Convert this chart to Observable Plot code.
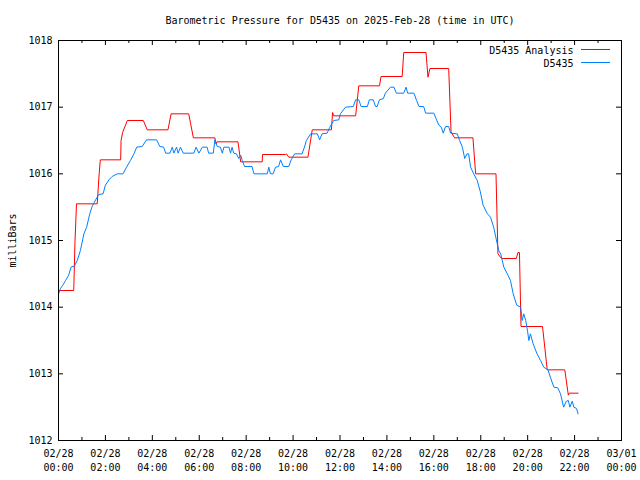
<!DOCTYPE html>
<html>
<head>
<meta charset="utf-8">
<script src="https://cdn.jsdelivr.net/npm/d3@7"></script>
<script src="https://cdn.jsdelivr.net/npm/@observablehq/plot@0.6"></script>
<style>
  html, body { margin: 0; padding: 0; background: white; }
  svg { display: block; }
</style>
</head>
<body>
<div id="chart"></div>
<script>
// ---- Data (minutes after 2025-02-28 00:00 UTC, millibars) ----
const titleText = "Barometric Pressure for D5435 on 2025-Feb-28 (time in UTC)";
const yLabel = "milliBars";
const seriesNames = ["D5435 Analysis", "D5435"];
const seriesColors = ["#ff0000", "#0080ff"];
const yTickValues = [1012, 1013, 1014, 1015, 1016, 1017, 1018];

const analysisMinutes = [0, 39, 42, 46, 99, 104, 107, 159, 160, 164, 176, 217, 227, 280, 288, 333, 338, 345, 400, 403, 405, 459, 466, 521, 522, 581, 583, 589, 638, 649, 698, 701, 704, 760, 768, 821, 825, 879, 883, 940, 945, 950, 998, 1004, 1013, 1060, 1067, 1119, 1124, 1133, 1171, 1175, 1179, 1183, 1238, 1250, 1295, 1304, 1306, 1329];
const analysisValues = [1014.25, 1014.25, 1014.95, 1015.55, 1015.55, 1016.0, 1016.21, 1016.21, 1016.5, 1016.62, 1016.8, 1016.8, 1016.66, 1016.66, 1016.9, 1016.9, 1016.75, 1016.54, 1016.54, 1016.45, 1016.48, 1016.48, 1016.18, 1016.18, 1016.29, 1016.29, 1016.3, 1016.25, 1016.25, 1016.66, 1016.66, 1016.92, 1016.87, 1016.87, 1017.32, 1017.32, 1017.46, 1017.46, 1017.82, 1017.82, 1017.45, 1017.58, 1017.58, 1016.63, 1016.54, 1016.54, 1016.0, 1016.0, 1014.8, 1014.73, 1014.73, 1014.82, 1014.82, 1013.71, 1013.71, 1013.06, 1013.06, 1012.68, 1012.71, 1012.71];

const stationMinutes = [1, 5, 11, 18, 26, 32, 41, 48, 56, 65, 72, 80, 86, 95, 103, 114, 120, 129, 137, 150, 165, 174, 184, 193, 200, 214, 225, 251, 259, 269, 274, 285, 291, 295, 302, 306, 312, 319, 346, 352, 359, 368, 380, 384, 396, 400, 406, 414, 419, 423, 436, 440, 444, 448, 455, 461, 466, 470, 476, 495, 500, 534, 538, 542, 549, 555, 563, 568, 575, 589, 595, 604, 623, 629, 634, 645, 662, 668, 674, 687, 694, 704, 717, 721, 734, 754, 760, 768, 774, 790, 795, 805, 811, 815, 821, 831, 836, 849, 858, 864, 883, 889, 893, 909, 916, 922, 934, 939, 960, 967, 973, 979, 984, 990, 998, 1003, 1020, 1026, 1033, 1039, 1045, 1049, 1054, 1062, 1071, 1079, 1086, 1097, 1105, 1113, 1120, 1126, 1131, 1139, 1148, 1156, 1163, 1172, 1182, 1186, 1190, 1195, 1200, 1203, 1207, 1214, 1224, 1233, 1241, 1252, 1258, 1267, 1277, 1284, 1292, 1299, 1304, 1308, 1314, 1318, 1325, 1329];
const stationValues = [1014.21, 1014.28, 1014.33, 1014.40, 1014.48, 1014.60, 1014.62, 1014.70, 1014.85, 1015.10, 1015.20, 1015.40, 1015.51, 1015.61, 1015.69, 1015.70, 1015.83, 1015.91, 1015.96, 1016.00, 1016.00, 1016.10, 1016.20, 1016.30, 1016.40, 1016.41, 1016.51, 1016.51, 1016.41, 1016.40, 1016.31, 1016.31, 1016.40, 1016.31, 1016.40, 1016.31, 1016.40, 1016.31, 1016.31, 1016.40, 1016.31, 1016.40, 1016.40, 1016.31, 1016.31, 1016.51, 1016.41, 1016.40, 1016.31, 1016.40, 1016.40, 1016.31, 1016.40, 1016.31, 1016.30, 1016.23, 1016.28, 1016.20, 1016.11, 1016.11, 1016.00, 1016.00, 1016.10, 1016.00, 1016.00, 1016.10, 1016.11, 1016.21, 1016.11, 1016.11, 1016.21, 1016.30, 1016.30, 1016.40, 1016.50, 1016.60, 1016.60, 1016.51, 1016.60, 1016.61, 1016.70, 1016.80, 1016.81, 1016.90, 1017.00, 1017.01, 1017.11, 1017.11, 1017.01, 1017.01, 1017.11, 1017.11, 1017.01, 1017.01, 1017.11, 1017.13, 1017.21, 1017.30, 1017.30, 1017.21, 1017.21, 1017.30, 1017.21, 1017.21, 1017.10, 1017.01, 1017.01, 1016.91, 1016.91, 1016.81, 1016.73, 1016.70, 1016.61, 1016.71, 1016.71, 1016.61, 1016.60, 1016.50, 1016.40, 1016.23, 1016.30, 1016.30, 1016.10, 1016.00, 1015.90, 1015.73, 1015.53, 1015.40, 1015.35, 1015.20, 1015.01, 1014.85, 1014.80, 1014.60, 1014.50, 1014.40, 1014.20, 1014.03, 1014.00, 1013.80, 1013.90, 1013.80, 1013.63, 1013.50, 1013.60, 1013.45, 1013.30, 1013.20, 1013.10, 1013.06, 1012.95, 1012.80, 1012.79, 1012.70, 1012.50, 1012.59, 1012.60, 1012.50, 1012.59, 1012.50, 1012.48, 1012.40];

const majorTickHours = [0, 2, 4, 6, 8, 10, 12, 14, 16, 18, 20, 22, 24];
const minorTickHours = [1, 3, 5, 7, 9, 11, 13, 15, 17, 19, 21, 23];

// ---- Helpers ----
const t0 = Date.UTC(2025, 1, 28, 0, 0);
const atMinute = m => new Date(t0 + m * 60000);
const atHour = h => new Date(t0 + h * 3600000);

const analysis = analysisMinutes.map((m, i) => ({time: atMinute(m), value: analysisValues[i]}));
const station = stationMinutes.map((m, i) => ({time: atMinute(m), value: stationValues[i]}));
const majorTicks = majorTickHours.map(atHour);
const minorTicks = minorTickHours.map(atHour);
const fmtDate = d3.utcFormat("%m/%d");
const fmtTime = d3.utcFormat("%H:%M");

const W = 640, H = 480, mL = 58, mR = 19, mT = 40, mB = 40;
const plotW = W - mL - mR, plotH = H - mT - mB;
const majorLen = 5, minorLen = 3;

const chart = Plot.plot({
  width: W,
  height: H,
  marginLeft: mL,
  marginRight: mR,
  marginTop: mT,
  marginBottom: mB,
  style: {fontFamily: "'DejaVu Sans Mono', monospace", fontSize: "10px", background: "white", color: "black"},
  x: {type: "utc", domain: [atHour(0), atHour(24)], axis: null},
  y: {domain: [1012, 1018], axis: null},
  marks: [
    // inward ticks on all four sides
    Plot.tickX(majorTicks, {x: d => d, insetTop: plotH - majorLen, stroke: "black"}),
    Plot.tickX(majorTicks, {x: d => d, insetBottom: plotH - majorLen, stroke: "black"}),
    Plot.tickX(minorTicks, {x: d => d, insetTop: plotH - minorLen, stroke: "black"}),
    Plot.tickX(minorTicks, {x: d => d, insetBottom: plotH - minorLen, stroke: "black"}),
    Plot.tickY(yTickValues, {y: d => d, insetRight: plotW - majorLen, stroke: "black"}),
    Plot.tickY(yTickValues, {y: d => d, insetLeft: plotW - majorLen, stroke: "black"}),
    // tick labels
    Plot.text(yTickValues, {y: d => d, frameAnchor: "left", dx: -6, textAnchor: "end", text: d => String(d), fill: "black"}),
    Plot.text(majorTicks, {x: d => d, frameAnchor: "bottom", dy: 16, text: d => fmtDate(d), fill: "black"}),
    Plot.text(majorTicks, {x: d => d, frameAnchor: "bottom", dy: 30, text: d => fmtTime(d), fill: "black"}),
    // titles
    Plot.text([titleText], {frameAnchor: "top", dy: -24, text: d => d, fill: "black"}),
    Plot.text([yLabel], {frameAnchor: "left", dx: -46, rotate: -90, textAnchor: "middle", text: d => d, fill: "black"}),
    // data
    Plot.line(analysis, {x: "time", y: "value", stroke: seriesColors[0], strokeWidth: 1}),
    Plot.line(station, {x: "time", y: "value", stroke: seriesColors[1], strokeWidth: 1}),
    // legend text
    Plot.text([seriesNames[0]], {frameAnchor: "top-right", dx: -48, dy: 6, textAnchor: "end", text: d => d, fill: "black"}),
    Plot.text([seriesNames[1]], {frameAnchor: "top-right", dx: -48, dy: 19, textAnchor: "end", text: d => d, fill: "black"}),
    Plot.frame({stroke: "black"})
  ]
});

// legend line samples
const svg = d3.select(chart);
[0, 1].forEach(i => {
  svg.append("line")
    .attr("x1", 581).attr("x2", 610)
    .attr("y1", 49.5 + i * 13).attr("y2", 49.5 + i * 13)
    .attr("stroke", seriesColors[i]).attr("stroke-width", 1);
});

document.getElementById("chart").appendChild(chart);
</script>
</body>
</html>
